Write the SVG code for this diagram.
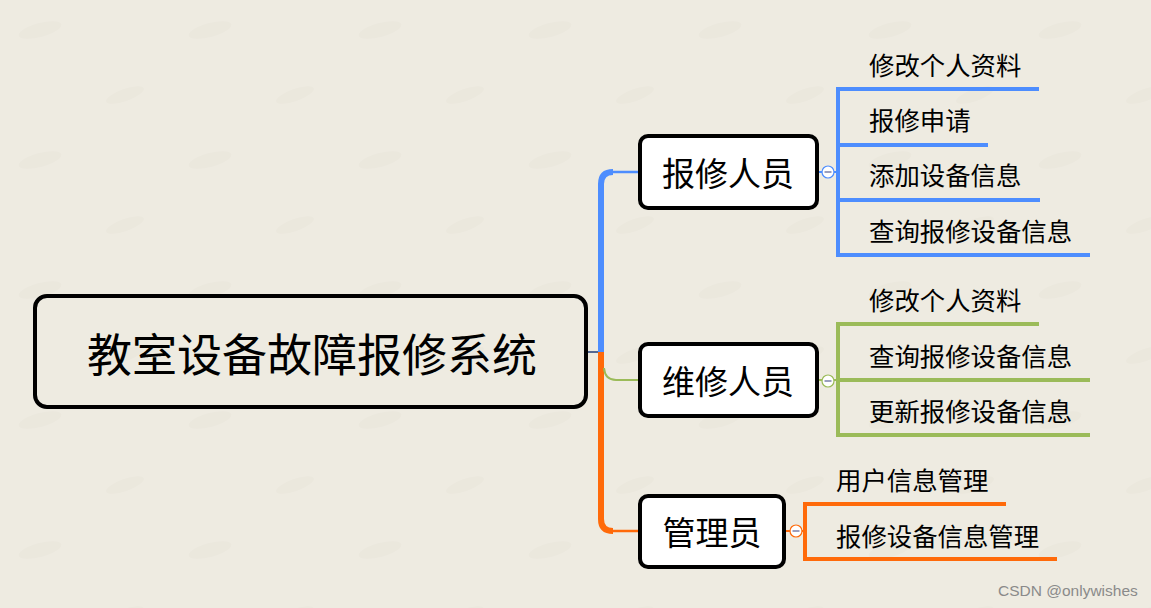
<svg xmlns="http://www.w3.org/2000/svg" width="1151" height="608" viewBox="0 0 1151 608">
<style>
.bg{fill:#eeebe1}
.node{fill:#ffffff;stroke:#000;stroke-width:4}
.root{fill:none;stroke:#000;stroke-width:4}
.t{font-family:"Noto Sans CJK SC","Noto Sans",sans-serif;fill:#000;dominant-baseline:central}
.tr{font-size:45px;text-anchor:middle}
.tn{font-size:33px;text-anchor:middle}
.tl{font-size:25.4px}
.blue{stroke:#4d8dfe;fill:none}
.green{stroke:#9bbb59;fill:none}
.orange{stroke:#ff6a0a;fill:none}
.tog{fill:#fff;stroke-width:1.2}
.dash{stroke:#7a7fa8;stroke-width:1.5}
.wm{font-family:"Liberation Sans",Arial,sans-serif;font-size:15.5px;fill:#8a8a8a}
</style>
<defs>
<pattern id="spots" width="170" height="130" patternUnits="userSpaceOnUse">
<ellipse cx="40" cy="30" rx="22" ry="7" fill="#e7e4d9" transform="rotate(-15 40 30)"/>
<ellipse cx="125" cy="95" rx="20" ry="6" fill="#e7e4d9" transform="rotate(-20 125 95)"/>
</pattern>
</defs>
<rect class="bg" x="0" y="0" width="1151" height="608"/>
<rect x="0" y="0" width="1151" height="608" fill="url(#spots)" opacity="0.45"/>

<g id="connectors">
<line x1="587" y1="352" x2="602" y2="352" stroke="#1f3c78" stroke-width="1.5"/>
<path class="blue" stroke-width="6" d="M601 352 V184 Q601 172 613 172"/>
<path class="blue" stroke-width="2.5" d="M611 172 H640"/>
<path class="orange" stroke-width="6" d="M601 352 V519 Q601 531 613 531"/>
<path class="orange" stroke-width="2.5" d="M611 531 H640"/>
<path class="green" stroke-width="2" d="M604 368 Q605 380 616 380 H640"/>
<path class="blue" stroke-width="2" d="M817 172 H838"/>
<path class="blue" stroke-width="4" d="M838 87 V257"/>
<path class="blue" stroke-width="4" d="M836 89 H1039 M836 145 H988 M836 200 H1040 M836 255 H1090"/>
<path class="green" stroke-width="2" d="M817 380 H838"/>
<path class="green" stroke-width="4" d="M838 322 V437"/>
<path class="green" stroke-width="4" d="M836 324 H1039 M836 380 H1090 M836 435 H1090"/>
<path class="orange" stroke-width="2" d="M784 531 H805"/>
<path class="orange" stroke-width="4" d="M805 502 V561"/>
<path class="orange" stroke-width="4" d="M803 504 H1006 M803 559 H1057"/>
</g>

<g id="root">
<rect class="root" x="35" y="296" width="551" height="111" rx="12"/>
<text class="t tr" x="312" y="352">教室设备故障报修系统</text>
</g>

<g id="n1">
<rect class="node" x="640" y="136" width="177" height="72" rx="8"/>
<text class="t tn" x="728" y="172">报修人员</text>
<circle class="tog blue" cx="828" cy="172" r="6"/>
<line class="dash" x1="824.5" y1="172" x2="831.5" y2="172"/>
</g>
<g id="n2">
<rect class="node" x="640" y="344" width="177" height="72" rx="8"/>
<text class="t tn" x="728" y="380">维修人员</text>
<circle class="tog green" cx="828" cy="381" r="6"/>
<line class="dash" x1="824.5" y1="381" x2="831.5" y2="381"/>
</g>
<g id="n3">
<rect class="node" x="640" y="496" width="144" height="71" rx="8"/>
<text class="t tn" x="712" y="531">管理员</text>
<circle class="tog orange" cx="796" cy="531" r="6"/>
<line class="dash" x1="792.5" y1="531" x2="799.5" y2="531"/>
</g>

<g id="l1a"><text class="t tl" x="869" y="64">修改个人资料</text></g>
<g id="l1b"><text class="t tl" x="869" y="119">报修申请</text></g>
<g id="l1c"><text class="t tl" x="869" y="174">添加设备信息</text></g>
<g id="l1d"><text class="t tl" x="869" y="230">查询报修设备信息</text></g>
<g id="l2a"><text class="t tl" x="869" y="299">修改个人资料</text></g>
<g id="l2b"><text class="t tl" x="869" y="355">查询报修设备信息</text></g>
<g id="l2c"><text class="t tl" x="869" y="410">更新报修设备信息</text></g>
<g id="l3a"><text class="t tl" x="836" y="479">用户信息管理</text></g>
<g id="l3b"><text class="t tl" x="836" y="535">报修设备信息管理</text></g>

<text class="wm" x="998" y="596">CSDN @onlywishes</text>
</svg>
